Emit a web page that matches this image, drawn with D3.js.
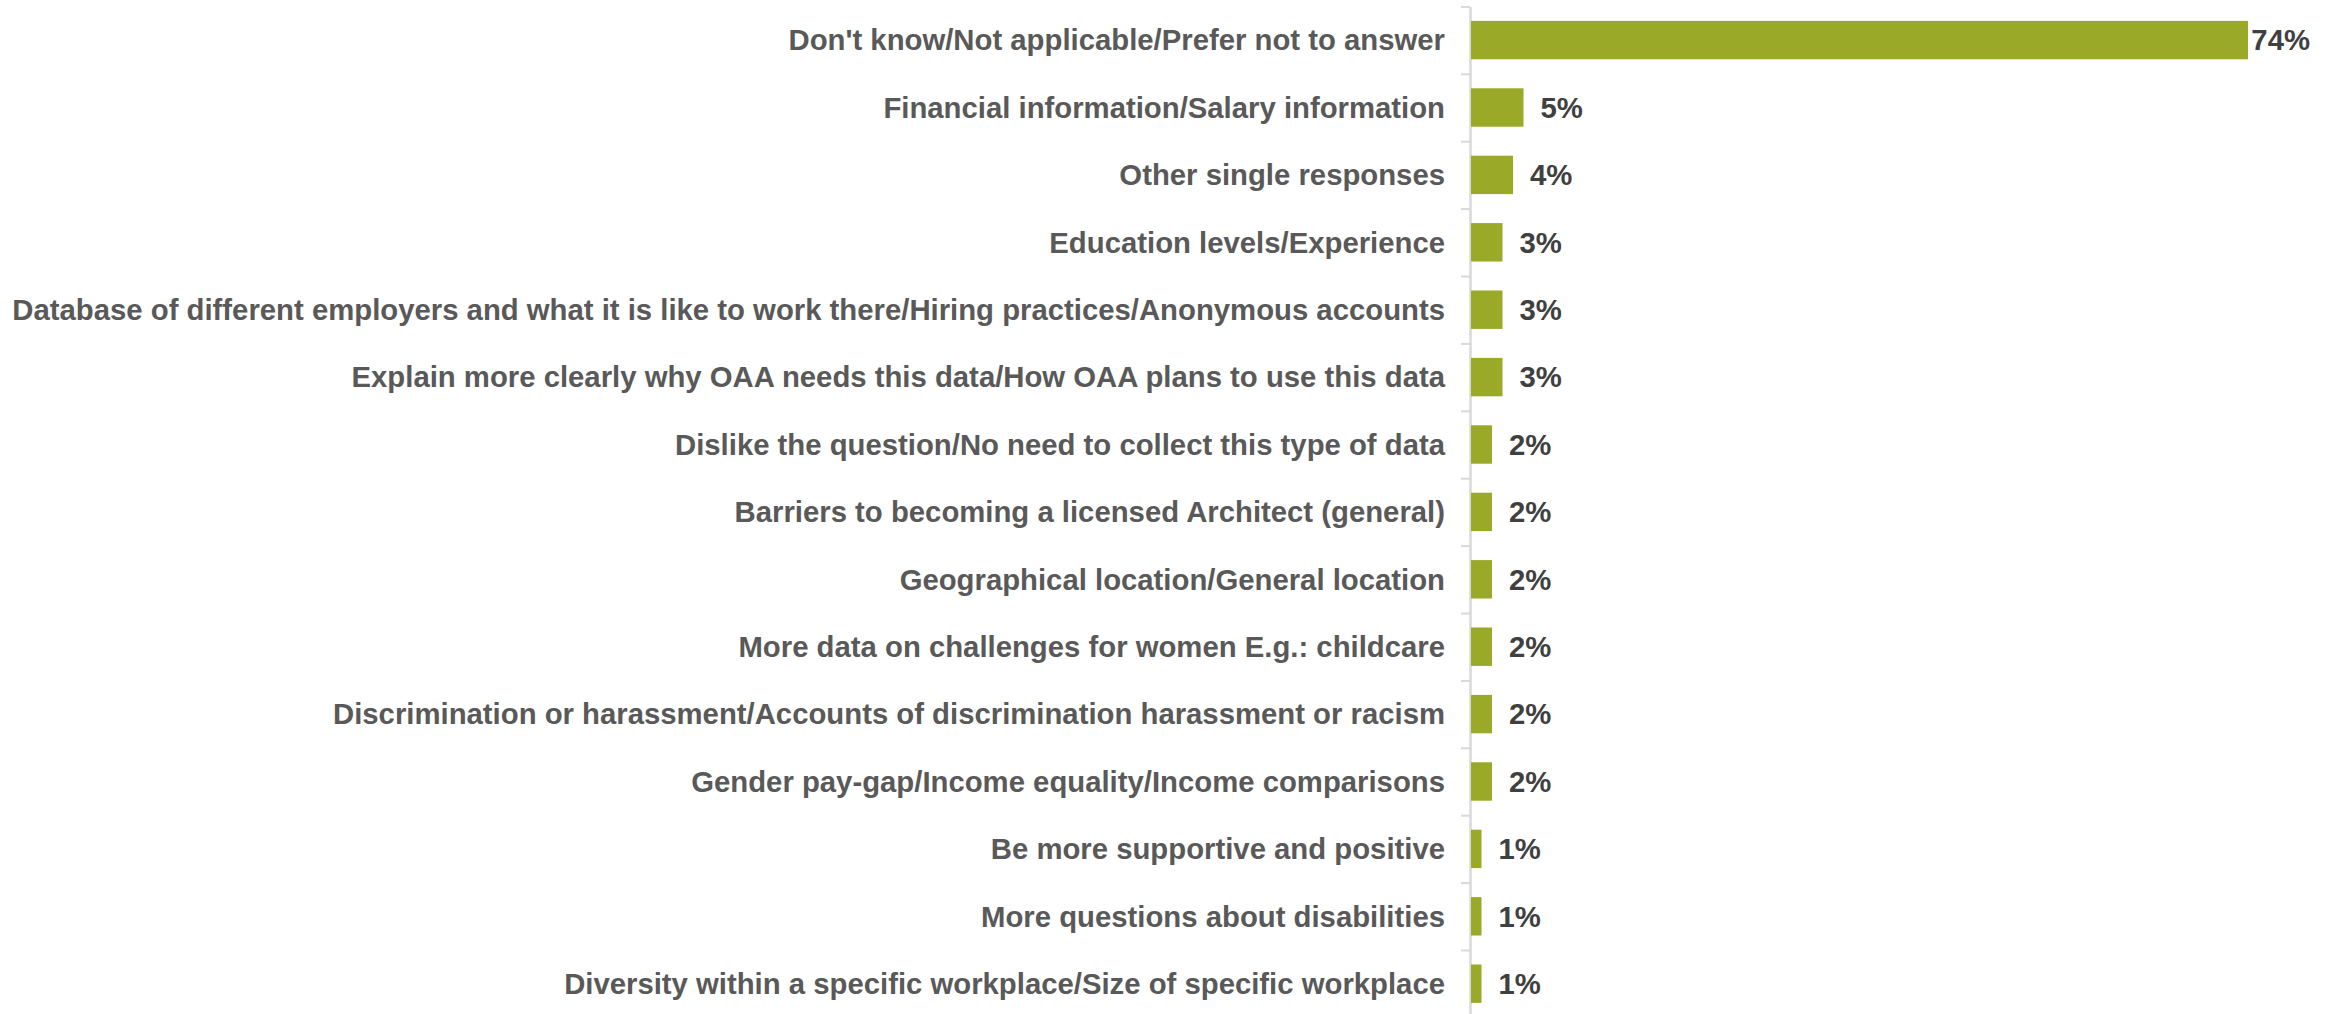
<!DOCTYPE html>
<html>
<head>
<meta charset="utf-8">
<script src="https://cdn.jsdelivr.net/npm/d3@7"></script>
<style>
  html, body { margin: 0; padding: 0; background: #ffffff; }
  svg { display: block; }
  text { font-family: "Liberation Sans", Arial, sans-serif; font-weight: bold; }
</style>
</head>
<body>
<script>
// Responses, in display order (top to bottom)
const categories = [
  "Don't know/Not applicable/Prefer not to answer",
  "Financial information/Salary information",
  "Other single responses",
  "Education levels/Experience",
  "Database of different employers and what it is like to work there/Hiring practices/Anonymous accounts",
  "Explain more clearly why OAA needs this data/How OAA plans to use this data",
  "Dislike the question/No need to collect this type of data",
  "Barriers to becoming a licensed Architect (general)",
  "Geographical location/General location",
  "More data on challenges for women E.g.: childcare",
  "Discrimination or harassment/Accounts of discrimination harassment or racism",
  "Gender pay-gap/Income equality/Income comparisons",
  "Be more supportive and positive",
  "More questions about disabilities",
  "Diversity within a specific workplace/Size of specific workplace"
];

// Share of respondents (%)
const values = [74, 5, 4, 3, 3, 3, 2, 2, 2, 2, 2, 2, 1, 1, 1];

const W = 2336, H = 1014;
const axisX = 1470;
const plotTop = 6.4, plotBottom = 1017.4;
const labelRightLimit = 2310;

const svg = d3.select("body").append("svg")
  .attr("width", W).attr("height", H);

const y = d3.scaleBand()
  .domain(categories)
  .range([plotTop, plotBottom])
  .paddingInner(0.43)
  .paddingOuter(0.215);

const x = d3.scaleLinear()
  .domain([0, 74])
  .range([axisX + 1, 2248]);

// Category axis: ticks sit on the boundaries between categories
const boundary = d3.scaleLinear()
  .domain([0, categories.length])
  .range([plotTop, plotBottom]);

const axis = svg.append("g")
  .attr("transform", `translate(${axisX},0)`)
  .call(d3.axisLeft(boundary)
    .tickValues(d3.range(0, categories.length + 1))
    .tickSize(9)
    .tickSizeOuter(0)
    .tickFormat(""));
axis.select(".domain").attr("stroke", "#d9d9d9").attr("stroke-width", 2.5);
axis.selectAll(".tick line").attr("stroke", "#d9d9d9").attr("stroke-width", 2);

// Category labels
svg.append("g").selectAll("text")
  .data(categories)
  .join("text")
  .attr("x", axisX - 25)
  .attr("y", d => y(d) + y.bandwidth() / 2)
  .attr("dy", "0.35em")
  .attr("text-anchor", "end")
  .attr("fill", "#595959")
  .style("font-size", "29.3px")
  .text(d => d);

// Bars
svg.append("g").selectAll("rect")
  .data(values)
  .join("rect")
  .attr("x", x(0))
  .attr("y", (d, i) => y(categories[i]))
  .attr("width", d => x(d) - x(0))
  .attr("height", y.bandwidth())
  .attr("fill", "#9aaa28");

// Value labels
const vl = svg.append("g").selectAll("text")
  .data(values)
  .join("text")
  .attr("y", (d, i) => y(categories[i]) + y.bandwidth() / 2)
  .attr("dy", "0.35em")
  .attr("fill", "#404040")
  .style("font-size", "29.3px")
  .text(d => d + "%");

vl.attr("x", function (d) {
  const w = this.getComputedTextLength();
  return Math.min(x(d) + 17, labelRightLimit - w);
});
</script>
</body>
</html>
